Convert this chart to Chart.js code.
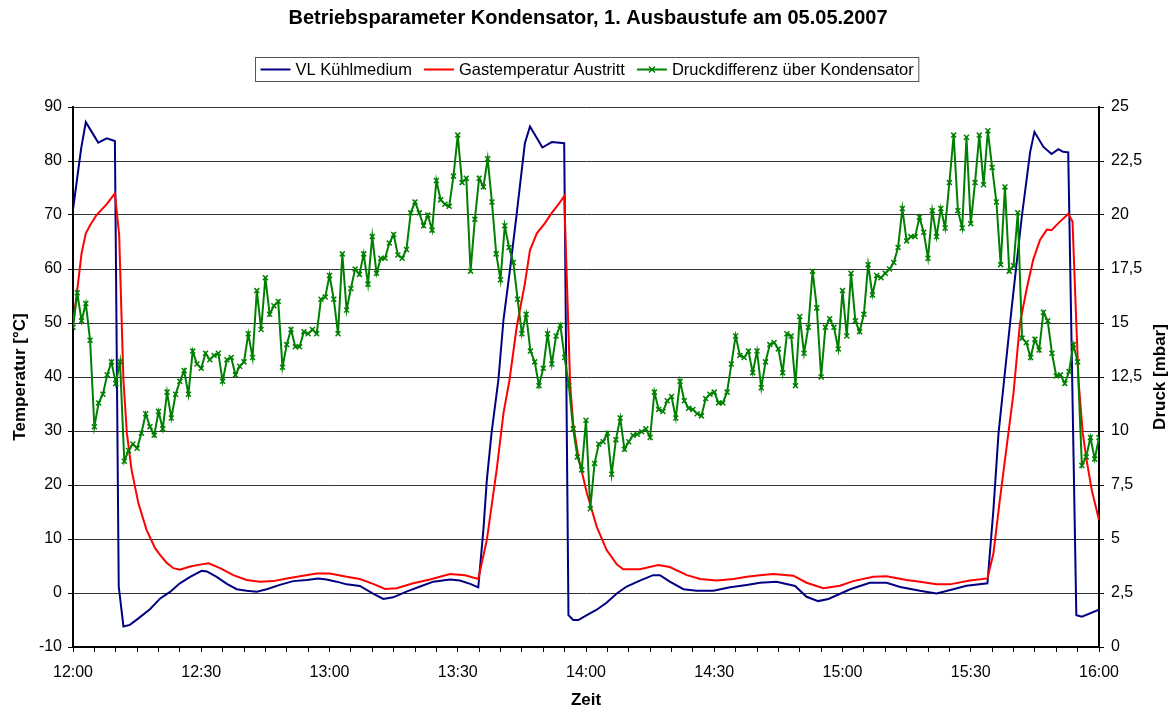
<!DOCTYPE html>
<html>
<head>
<meta charset="utf-8">
<title>Betriebsparameter Kondensator</title>
<script src="https://cdn.jsdelivr.net/npm/chart.js@4/dist/chart.umd.min.js"></script>
<style>
    html, body { margin: 0; padding: 0; background: #fff; }
    #wrap { width: 1173px; height: 707px; }
</style>
</head>
<body>
<div id="wrap"><canvas id="chart" width="1173" height="707"></canvas></div>
<script>
// Texts
const chartTitle = 'Betriebsparameter Kondensator, 1. Ausbaustufe am 05.05.2007';
const seriesNames = ['VL Kühlmedium', 'Gastemperatur Austritt', 'Druckdifferenz über Kondensator'];
const xTitle = 'Zeit';
const yLeftTitle = 'Temperatur [°C]';
const yRightTitle = 'Druck [mbar]';

// VL Kühlmedium: minutes after 12:00 and temperature in °C
const blueMin = [0, 1.9, 3, 5.9, 7.9, 9.8, 10.7, 11.8, 13.3, 15.3, 18, 20.4, 22.7, 25, 27.4, 30.1, 31.3,
    33.6, 36, 38.3, 40.6, 43, 45.3, 48.4, 51.5, 54.7, 57.4, 59.3, 61.7, 64, 67.1, 70.2, 72.6, 74.9,
    78, 81.2, 84.3, 88.2, 90.5, 92.9, 94.8, 96, 96.8, 97.9, 99.5, 100.7, 102.2, 103.8, 105.7, 106.9,
    109.8, 112, 114.9, 115.9, 117, 118.2, 120.2, 122.5, 124.8, 127.2, 129.5, 132.6, 135.7, 137.3,
    139.6, 142.8, 145.9, 149.8, 153.7, 157.6, 160.7, 164.6, 168.9, 171.6, 174.3, 176.7, 181.8, 186.4,
    190.3, 193.5, 198.1, 202, 205.9, 209, 213.9, 215.3, 216.5, 217.8, 219.6, 221.9, 223.9, 224.9,
    227, 228.9, 230.5, 231.6, 232.8, 234.7, 236, 240];
const blueVal = [71, 82.3, 87.2, 83.4, 84.2, 83.7, 1.2, -6.2, -5.9, -4.7, -3.0, -1.0, 0.2, 1.8, 3.0, 4.1, 4.0,
    3.0, 1.7, 0.7, 0.4, 0.25, 0.7, 1.5, 2.2, 2.4, 2.7, 2.5, 2.1, 1.6, 1.3, -0.1, -1.1, -0.8,
    0.25, 1.2, 2.1, 2.5, 2.3, 1.7, 1.05, 11.7, 20.9, 29.6, 39.4, 50.6, 59.8, 70.3, 83.3, 86.4,
    82.5, 83.5, 83.3, -4.1, -5.0, -5.0, -4.1, -3.1, -1.8, -0.1, 1.2, 2.3, 3.3, 3.3,
    2.1, 0.7, 0.4, 0.4, 1.05, 1.5, 1.9, 2.1, 1.3, -0.7, -1.5, -1.1, 0.7, 1.9,
    1.9, 1.1, 0.4, -0.1, 0.7, 1.35, 1.8, 15.4, 29.6, 39.4, 53.0, 69.4, 81.7, 85.4,
    82.6, 81.3, 82.2, 81.7, 81.6, -4.1, -4.4, -3.1];

// Gastemperatur Austritt: minutes after 12:00 and temperature in °C
const redMin = [0, 0.9, 2, 3, 4, 5.5, 7.9, 9.8, 10.8, 11.4, 11.8, 12.6, 13.7, 15.3, 17.2, 19.2, 20.4,
    21.9, 23.5, 25, 27.4, 30, 31.7, 34.4, 37.5, 40.6, 43.7, 46.9, 50, 53.1, 57, 60.1, 64, 67.1,
    70.2, 73, 75.7, 79.6, 83.5, 88.2, 91.7, 94.8, 96.8, 99.1, 100.7, 102.1, 103.8, 105.7, 106.9,
    108.5, 110.4, 112, 113.5, 114.9, 116.3, 117, 118.2, 120.2, 122.5, 124.8, 127.2, 128.7, 132.6,
    136.9, 139.6, 143.6, 146.7, 150.6, 154.5, 157.6, 160.7, 163.8, 168.5, 171.6, 175.5, 179.4,
    182.5, 187.2, 190.3, 195, 198.1, 202, 205.1, 209.8, 213.9, 215.3, 216.8, 218.4, 220, 221.5,
    223.1, 224.6, 226.2, 227.8, 228.9, 230.5, 232.8, 233.8, 235.2, 236.2, 237.1, 238.3, 240];
const redVal = [49.9, 55.5, 62.9, 66.6, 68.1, 70.0, 72.0, 74.0, 66.3, 49.9, 39.4, 29.6, 22.8, 16.6, 11.7, 8.3, 7.0,
    5.6, 4.6, 4.3, 4.9, 5.3, 5.5, 4.6, 3.3, 2.4, 2.1, 2.2, 2.7, 3.1, 3.6, 3.6, 3.0, 2.6,
    1.7, 0.75, 0.9, 1.8, 2.5, 3.5, 3.3, 2.6, 9.8, 22.8, 33.3, 39.4, 49.3, 57.3, 63.5,
    66.6, 68.5, 70.4, 71.9, 73.5, 38.5, 31.4, 25.2, 18.5, 12.3, 8.0, 5.3, 4.4, 4.4,
    5.2, 4.8, 3.3, 2.6, 2.3, 2.6, 3.0, 3.3, 3.5, 3.2, 1.9, 0.9, 1.35,
    2.2, 3.0, 3.1, 2.4, 2.1, 1.6, 1.6, 2.3, 2.7, 7.3, 17.2, 27.1, 37, 49.9,
    56.4, 61.7, 65.4, 67.3, 67.2, 68.5, 70.2, 68.8, 39.4, 29.6, 24.6, 19.1, 13.5];

// Druckdifferenz in mbar, one reading per minute from 12:00 to 16:00
const pressure = [
    14.8, 16.4, 15.1, 15.9, 14.2, 10.2, 11.3, 11.7, 12.6, 13.2,
    12.2, 13.2, 8.6, 9.1, 9.4, 9.2, 9.9, 10.8, 10.2, 9.8,
    10.9, 10.1, 11.8, 10.6, 11.7, 12.3, 12.8, 11.7, 13.7, 13.1,
    12.9, 13.6, 13.3, 13.5, 13.6, 12.3, 13.3, 13.4, 12.6, 13.0,
    13.2, 14.5, 13.4, 16.5, 14.7, 17.1, 15.4, 15.8, 16.0, 12.95,
    14.0, 14.7, 13.9, 13.9, 14.6, 14.5, 14.7, 14.5, 16.1, 16.2,
    17.2, 16.1, 14.5, 18.2, 15.6, 16.6, 17.5, 17.25, 18.2, 16.8,
    19.0, 17.3, 18.0, 18.0, 18.7, 19.1, 18.15, 18.0, 18.4, 20.1,
    20.6, 20.1, 19.5, 20.0, 19.3, 21.6, 20.7, 20.5, 20.4, 21.8,
    23.7, 21.5, 21.7, 17.4, 19.8, 21.7, 21.3, 22.6, 20.6, 18.2,
    17.0, 19.5, 18.5, 17.8, 16.1, 14.5, 15.4, 13.7, 13.2, 12.1,
    12.9, 14.5, 13.1, 14.4, 14.9, 13.4, 12.1, 10.1, 8.8, 8.2,
    10.5, 6.4, 8.5, 9.4, 9.5, 9.9, 8.0, 9.6, 10.6, 9.15,
    9.5, 9.8, 9.85, 9.97, 10.1, 9.7, 11.8, 11.0, 10.9, 11.4,
    11.6, 10.6, 12.3, 11.4, 11.05, 11.0, 10.8, 10.7, 11.5, 11.7,
    11.8, 11.3, 11.3, 11.8, 13.1, 14.4, 13.5, 13.4, 13.7, 12.7,
    13.7, 12.0, 13.2, 14.0, 14.1, 13.8, 12.7, 14.5, 14.4, 12.1,
    15.3, 13.6, 14.8, 17.4, 15.7, 12.5, 14.8, 15.2, 14.8, 13.8,
    16.5, 14.4, 17.3, 15.1, 14.6, 15.4, 17.7, 16.3, 17.2, 17.1,
    17.3, 17.5, 17.8, 18.5, 20.3, 18.8, 19.0, 19.0, 19.9, 19.2,
    18.0, 20.2, 19.0, 20.3, 19.4, 21.5, 23.7, 20.2, 19.4, 23.6,
    19.6, 21.5, 23.7, 21.4, 23.9, 22.2, 20.6, 17.7, 21.3, 17.4,
    17.65, 20.1, 14.3, 14.1, 13.4, 14.25, 13.75, 15.5, 15.1, 13.6,
    12.55, 12.6, 12.2, 12.75, 14.0, 13.2, 8.4, 8.8, 9.7, 8.7,
    9.7
];

// Axis ranges
const xMin = 0, xMax = 240, xStep = 5, xLabelEvery = 30;
const tempMin = -10, tempMax = 90, tempStep = 10;
const pressMin = 0, pressMax = 25, pressStep = 2.5;

const FONT = '"Liberation Sans", Arial, sans-serif';
const BLUE = '#000080';
const RED = '#ff0000';
const GREEN = '#008000';

function timeLabel(v) {
    if (v % xLabelEvery !== 0) return '';
    const h = 12 + Math.floor(v / 60);
    const m = v % 60;
    return h + ':' + String(m).padStart(2, '0');
}

// Titles and legend drawn on top of the chart
const decorPlugin = {
    id: 'decor',
    afterDraw(chart) {
        const ctx = chart.ctx;
        const area = chart.chartArea;
        const midX = (area.left + area.right) / 2;
        const midY = (area.top + area.bottom) / 2;
        ctx.save();
        ctx.fillStyle = '#000';
        ctx.textBaseline = 'middle';
        ctx.textAlign = 'center';

        // Title
        ctx.font = 'bold 20px ' + FONT;
        ctx.fillText(chartTitle, 588, 18);

        // Axis titles
        ctx.font = 'bold 17px ' + FONT;
        ctx.fillText(xTitle, midX, 700);
        ctx.save();
        ctx.translate(20, midY);
        ctx.rotate(-Math.PI / 2);
        ctx.fillText(yLeftTitle, 0, 0);
        ctx.restore();
        ctx.save();
        ctx.translate(1160, midY);
        ctx.rotate(-Math.PI / 2);
        ctx.fillText(yRightTitle, 0, 0);
        ctx.restore();

        // Legend
        ctx.font = '16.5px ' + FONT;
        const sample = 30, gap = 5, spacing = 12, pad = 5;
        const widths = seriesNames.map(n => ctx.measureText(n).width);
        let total = pad * 2;
        widths.forEach((w, i) => { total += sample + gap + w + (i < widths.length - 1 ? spacing : 0); });
        const boxLeft = Math.round(586.5 - total / 2) + 0.5;
        const boxTop = 57.5, boxH = 24;
        ctx.strokeStyle = '#555';
        ctx.lineWidth = 1;
        ctx.strokeRect(boxLeft, boxTop, total, boxH);
        const colors = [BLUE, RED, GREEN];
        const ly = boxTop + boxH / 2;
        let lx = boxLeft + pad;
        ctx.textAlign = 'left';
        seriesNames.forEach((name, i) => {
            ctx.strokeStyle = colors[i];
            ctx.lineWidth = 2;
            ctx.beginPath();
            ctx.moveTo(lx, ly);
            ctx.lineTo(lx + sample, ly);
            ctx.stroke();
            if (i === 2) {
                const cx = lx + sample / 2, r = 3;
                ctx.lineWidth = 1.5;
                ctx.beginPath();
                ctx.moveTo(cx - r, ly - r); ctx.lineTo(cx + r, ly + r);
                ctx.moveTo(cx + r, ly - r); ctx.lineTo(cx - r, ly + r);
                ctx.stroke();
            }
            ctx.fillStyle = '#000';
            ctx.fillText(name, lx + sample + gap, ly + 1);
            lx += sample + gap + widths[i] + spacing;
        });
        ctx.restore();
    }
};

const ctx = document.getElementById('chart').getContext('2d');
new Chart(ctx, {
    type: 'line',
    data: {
        datasets: [
            {
                label: seriesNames[2],
                data: pressure.map((v, i) => ({ x: i, y: v })),
                yAxisID: 'y2',
                borderColor: GREEN,
                backgroundColor: GREEN,
                borderWidth: 2,
                pointStyle: 'crossRot',
                pointRadius: 3.5,
                pointBorderWidth: 1.5,
                pointBorderColor: GREEN,
                tension: 0,
                order: 0
            },
            {
                label: seriesNames[1],
                data: redMin.map((m, i) => ({ x: m, y: redVal[i] })),
                yAxisID: 'y',
                borderColor: RED,
                borderWidth: 2,
                pointRadius: 0,
                tension: 0,
                order: 1
            },
            {
                label: seriesNames[0],
                data: blueMin.map((m, i) => ({ x: m, y: blueVal[i] })),
                yAxisID: 'y',
                borderColor: BLUE,
                borderWidth: 2,
                pointRadius: 0,
                tension: 0,
                order: 2
            }
        ]
    },
    options: {
        responsive: false,
        animation: false,
        events: [],
        layout: { padding: { top: 107, left: 0, right: 0, bottom: 0 } },
        plugins: {
            legend: { display: false },
            title: { display: false },
            tooltip: { enabled: false }
        },
        scales: {
            x: {
                type: 'linear',
                min: xMin,
                max: xMax,
                afterFit: s => { s.height = 60; },
                border: { color: '#000', width: 2 },
                grid: { drawOnChartArea: false, drawTicks: true, tickLength: 5, tickColor: '#000' },
                ticks: {
                    stepSize: xStep,
                    autoSkip: false,
                    maxRotation: 0,
                    padding: 11,
                    color: '#000',
                    font: { family: FONT, size: 16 },
                    callback: v => timeLabel(v)
                }
            },
            y: {
                position: 'left',
                min: tempMin,
                max: tempMax,
                afterFit: s => { s.width = 73; },
                border: { color: '#000', width: 2 },
                grid: { color: '#333', lineWidth: 1, tickLength: 5, tickColor: '#000' },
                ticks: {
                    stepSize: tempStep,
                    padding: 6,
                    color: '#000',
                    font: { family: FONT, size: 16 }
                }
            },
            y2: {
                position: 'right',
                min: pressMin,
                max: pressMax,
                afterFit: s => { s.width = 74; },
                border: { color: '#000', width: 2 },
                grid: { drawOnChartArea: false, tickLength: 5, tickColor: '#000' },
                ticks: {
                    stepSize: pressStep,
                    padding: 7,
                    color: '#000',
                    font: { family: FONT, size: 16 },
                    callback: v => String(v).replace('.', ',')
                }
            }
        }
    },
    plugins: [decorPlugin]
});
</script>
</body>
</html>
